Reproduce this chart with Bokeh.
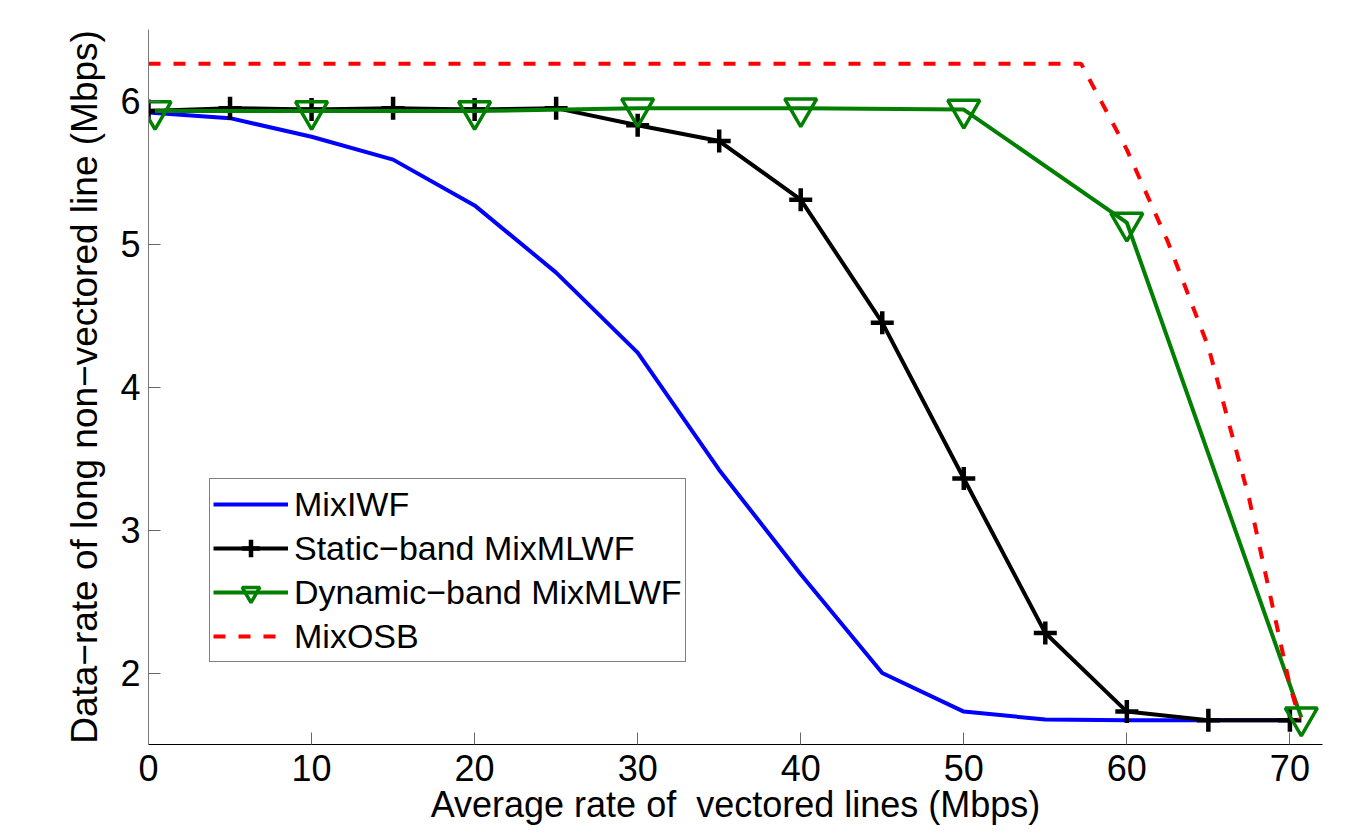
from bokeh.plotting import figure
from bokeh.models import Range1d, Legend, LegendItem, FixedTicker
from bokeh.embed import file_html
from bokeh.resources import INLINE

# ---- data ----
x_rate = [0, 5, 10, 15, 20, 25, 30, 35, 40, 45, 50, 55, 60, 65, 70]
mixiwf = [5.92, 5.88, 5.75, 5.59, 5.27, 4.80, 4.24, 3.42, 2.69, 2.00, 1.73, 1.675, 1.67, 1.67, 1.67]
static_mlwf = [5.93, 5.95, 5.94, 5.95, 5.94, 5.95, 5.83, 5.72, 5.31, 4.45, 3.36, 2.28, 1.73, 1.67, 1.67]

x_dyn = [0.4, 10, 20, 30, 40, 50, 60, 70.7]
dynamic_mlwf = [5.93, 5.93, 5.93, 5.95, 5.95, 5.94, 5.15, 1.69]

x_osb = [0, 57.2, 60, 62.5, 65, 67.5, 70, 70.6]
mixosb = [6.26, 6.26, 5.66, 5.02, 4.28, 3.22, 1.91, 1.68]

x_ticks = [0, 10, 20, 30, 40, 50, 60, 70]
y_ticks = [2, 3, 4, 5, 6]

labels = ["MixIWF", "Static\u2212band MixMLWF", "Dynamic\u2212band MixMLWF", "MixOSB"]
x_title = "Average rate of\u00a0 vectored lines (Mbps)"
y_title = "Data\u2212rate of long non\u2212vectored line (Mbps)"

FONT = "Liberation Sans"

p = figure(width=1359, height=838, output_backend="svg", toolbar_location=None,
           x_range=Range1d(0, 72), y_range=Range1d(1.5, 6.5),
           min_border_left=148, min_border_right=37, min_border_top=29,
           min_border_bottom=94)
p.outline_line_color = None
p.grid.visible = False
p.background_fill_color = "white"
p.border_fill_color = "white"

p.xaxis.ticker = FixedTicker(ticks=x_ticks)
p.yaxis.ticker = FixedTicker(ticks=y_ticks)
for ax in (p.xaxis, p.yaxis):
    ax.major_tick_in = 12
    ax.major_tick_out = 0
    ax.minor_tick_in = 0
    ax.minor_tick_out = 0
    ax.major_tick_line_color = "#666666"
    ax.major_tick_line_width = 1
    ax.major_label_text_font = FONT
    ax.major_label_text_font_size = "36px"
    ax.major_label_text_color = "black"
    ax.axis_label_text_font = FONT
    ax.axis_label_text_font_style = "normal"
    ax.axis_label_text_color = "black"

p.xaxis.axis_line_color = "black"
p.yaxis.axis_line_color = "#7a7a7a"
p.xaxis.major_label_standoff = 10
p.yaxis.major_label_standoff = 8
p.xaxis.axis_label = x_title
p.yaxis.axis_label = y_title
p.xaxis.axis_label_text_font_size = "36px"
p.yaxis.axis_label_text_font_size = "37px"
p.xaxis.axis_label_standoff = 0
p.yaxis.axis_label_standoff = 12

r_blue = p.line(x_rate, mixiwf, line_color="#0000ff", line_width=4)

r_black = p.line(x_rate, static_mlwf, line_color="black", line_width=4)
r_black_m = p.scatter(x_rate, static_mlwf, marker="cross", size=23,
                      line_color="black", line_width=4.5)

r_green = p.line(x_dyn, dynamic_mlwf, line_color="#007f00", line_width=4)
r_green_m = p.scatter(x_dyn, dynamic_mlwf, marker="inverted_triangle", size=32,
                      line_color="#007f00", line_width=3.5, fill_color=None)

r_red = p.line(x_osb, mixosb, line_color="#ff0000", line_width=4,
               line_dash="12 13")

legend = Legend(items=[
    LegendItem(label=labels[0], renderers=[r_blue]),
    LegendItem(label=labels[1], renderers=[r_black, r_black_m]),
    LegendItem(label=labels[2], renderers=[r_green, r_green_m]),
    LegendItem(label=labels[3], renderers=[r_red]),
], location=(61, 82))
legend.border_line_color = "black"
legend.border_line_width = 1
legend.background_fill_color = "white"
legend.background_fill_alpha = 1
legend.padding = 3
legend.spacing = 0
legend.margin = 0
legend.glyph_height = 44
legend.glyph_width = 75
legend.label_height = 44
legend.label_standoff = 6
legend.label_text_font = FONT
legend.label_text_font_size = "34px"
legend.label_text_color = "black"
p.add_layout(legend)

open("out.html", "w").write(file_html(p, INLINE))
